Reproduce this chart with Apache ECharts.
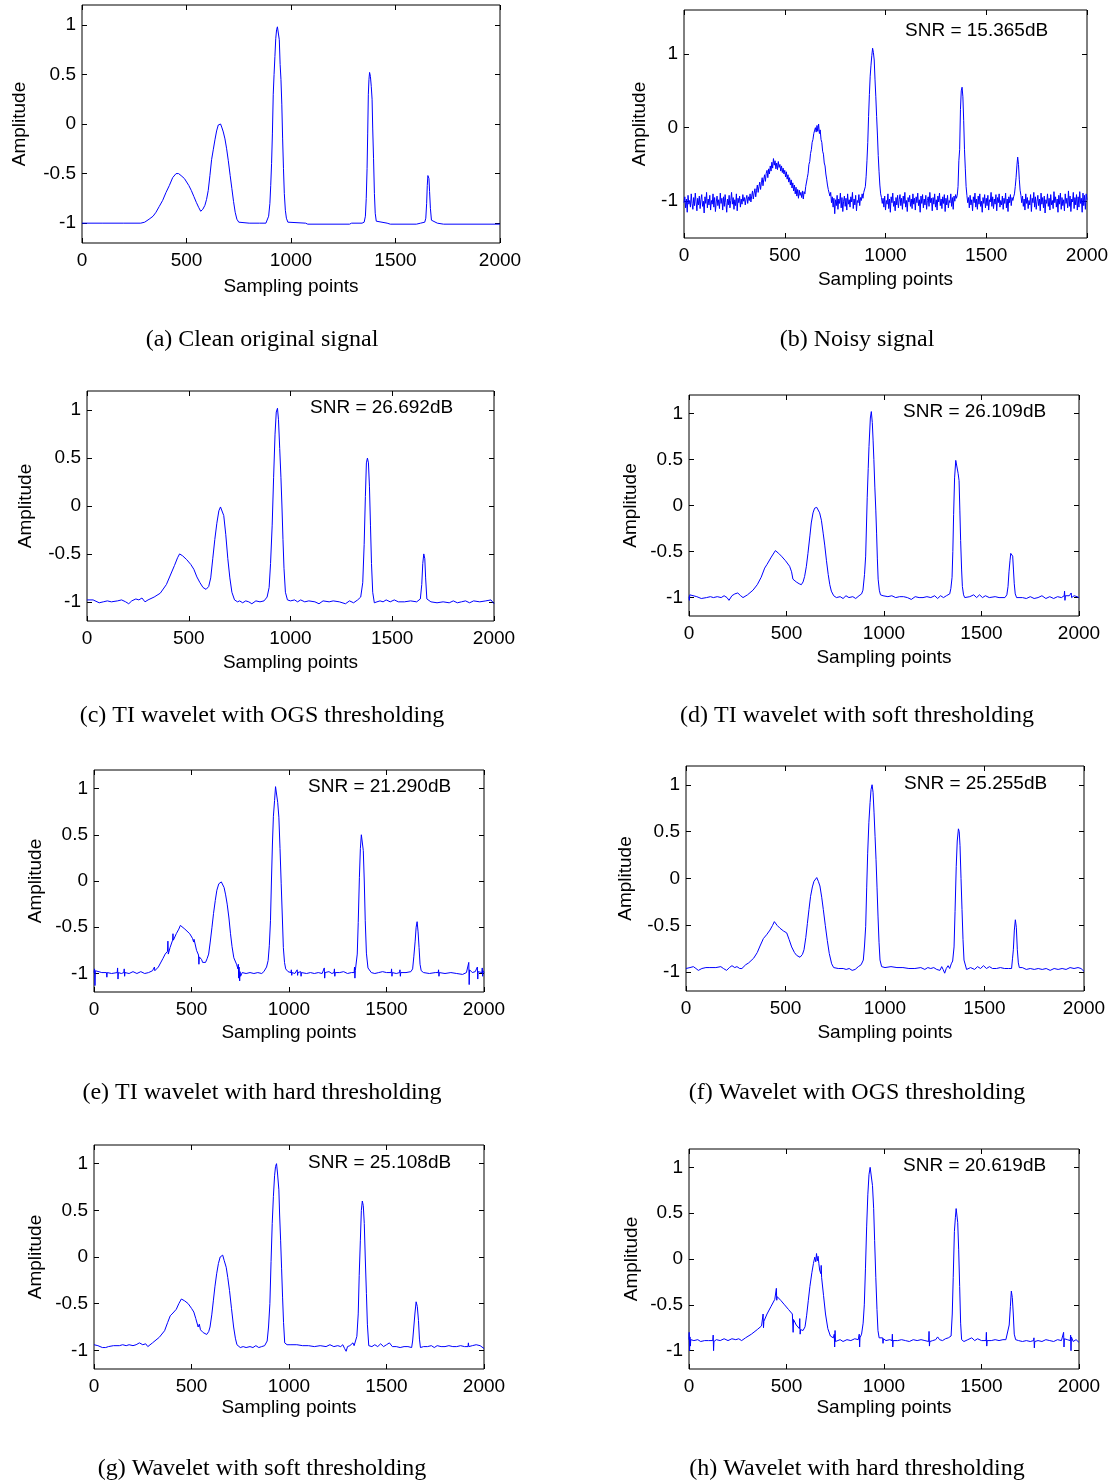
<!DOCTYPE html>
<html>
<head>
<meta charset="utf-8">
<script src="https://cdn.jsdelivr.net/npm/echarts@6/dist/echarts.min.js"></script>
<style>
html, body { margin: 0; padding: 0; background: #fff; }
#chart { width: 1112px; height: 1481px; }
</style>
</head>
<body>
<div id="chart"></div>
<script>
// 刻度
const xTicks = [0, 500, 1000, 1500, 2000]
const yTicks = [-1, -0.5, 0, 0.5, 1]
const yTicksNoisy = [-1, 0, 1]

const captions = [
    '(a) Clean original signal',
    '(b) Noisy signal',
    '(c) TI wavelet with OGS thresholding',
    '(d) TI wavelet with soft thresholding',
    '(e) TI wavelet with hard thresholding',
    '(f) Wavelet with OGS thresholding',
    '(g) Wavelet with soft thresholding',
    '(h) Wavelet with hard thresholding'
]
const snrLabels = ['', 'SNR = 15.365dB', 'SNR = 26.692dB', 'SNR = 26.109dB', 'SNR = 21.290dB', 'SNR = 25.255dB', 'SNR = 25.108dB', 'SNR = 20.619dB']

// (a) 原始信号 [采样点, 幅值]
const sigClean = [[0,-1],[100,-1],[200,-1],[281,-1],[300,-0.99],[321,-0.96],[340,-0.93],[354,-0.89],[370,-0.83],[386,-0.77],[402,-0.69],[418,-0.62],[434,-0.54],[450,-0.5],[462,-0.5],[474,-0.52],[490,-0.55],[499,-0.57],[511,-0.62],[523,-0.67],[535,-0.73],[547,-0.79],[558,-0.84],[568,-0.88],[578,-0.86],[588,-0.82],[596,-0.76],[604,-0.67],[612,-0.52],[620,-0.36],[628,-0.26],[636,-0.16],[644,-0.07],[652,-0.01],[656,0],[663,0],[670,-0.04],[676,-0.08],[684,-0.15],[692,-0.25],[700,-0.37],[709,-0.52],[717,-0.65],[725,-0.78],[733,-0.89],[741,-0.96],[750,-0.99],[757,-1],[800,-1],[850,-1],[880,-1],[886,-0.98],[893,-0.93],[899,-0.8],[903,-0.62],[907,-0.4],[911,-0.1],[915,0.3],[919,0.5],[923,0.68],[927,0.86],[931,0.95],[935,0.98],[938,1],[941,0.97],[944,0.85],[948,0.6],[952,0.45],[956,0.2],[960,-0.15],[964,-0.45],[968,-0.7],[973,-0.87],[978,-0.95],[985,-0.99],[991,-1],[1070,-1],[1080,-1.01],[1280,-1.01],[1290,-1],[1340,-1],[1350,-0.99],[1356,-0.93],[1360,-0.75],[1364,-0.45],[1367,-0.1],[1370,0.3],[1373,0.45],[1376,0.52],[1380,0.48],[1384,0.38],[1388,0.25],[1391,-0.05],[1395,-0.35],[1399,-0.7],[1403,-0.9],[1408,-0.98],[1413,-1],[1460,-1],[1475,-1.01],[1600,-1.01],[1620,-1],[1640,-0.99],[1645,-0.95],[1649,-0.8],[1652,-0.62],[1655,-0.52],[1657,-0.5],[1660,-0.55],[1663,-0.68],[1667,-0.85],[1672,-0.97],[1680,-0.99],[1700,-1],[1730,-1.01],[2000,-1.01]]

// (b) 含噪信号，每 4 个采样点读一次
const noisyStep = 4
const sigNoisy = [
    // 0 - 296
    -1.02,-0.94,-1.09,-0.97,-1.15,-0.92,-1.04,-0.99,-1.08,-0.90,
    -1.03,-1.11,-0.95,-1.06,-0.89,-1.01,-1.13,-0.96,-1.05,-0.93,
    -1.10,-0.98,-0.91,-1.07,-1.00,-1.16,-0.94,-1.03,-0.88,-1.09,
    -0.97,-1.05,-0.92,-1.12,-0.99,-1.04,-0.90,-1.08,-0.95,-1.14,
    -1.01,-0.93,-1.06,-0.98,-1.10,-0.89,-1.03,-0.96,-1.12,-0.94,
    -1.07,-0.91,-1.02,-1.15,-0.97,-1.05,-0.92,-1.09,-0.99,-0.88,
    -1.04,-0.95,-1.11,-0.98,-1.06,-0.90,-1.13,-0.96,-1.02,-0.93,
    -1.08,-0.97,-1.04,-0.91,-1.00,
    // 300 - 456
    -0.95,-1.05,-0.97,-0.92,-1.03,-0.94,-0.99,-0.90,-1.01,-0.93,
    -0.86,-0.97,-0.89,-0.83,-0.94,-0.85,-0.78,-0.88,-0.80,-0.74,
    -0.84,-0.75,-0.68,-0.79,-0.70,-0.64,-0.73,-0.62,-0.58,-0.68,
    -0.56,-0.63,-0.52,-0.59,-0.47,-0.55,-0.42,-0.51,-0.45,-0.56,
    // 460 - 576
    -0.48,-0.57,-0.46,-0.54,-0.50,-0.59,-0.52,-0.61,-0.55,-0.63,
    -0.58,-0.67,-0.60,-0.70,-0.64,-0.74,-0.68,-0.78,-0.71,-0.82,
    -0.75,-0.86,-0.78,-0.90,-0.81,-0.93,-0.84,-0.96,-0.85,-0.92,
    // 580 - 748
    -0.88,-0.95,-0.86,-0.97,-0.87,-0.90,-0.80,-0.78,-0.68,-0.62,
    -0.50,-0.46,-0.35,-0.30,-0.20,-0.16,-0.08,-0.10,0.00,-0.06,
    0.03,-0.05,0.05,-0.08,-0.03,-0.16,-0.20,-0.32,-0.36,-0.48,
    -0.52,-0.63,-0.70,-0.78,-0.84,-0.82,-0.93,-0.88,-1.02,-0.94,
    -1.08,-0.96,-1.17,
    // 752 - 892
    -0.98,-1.06,-0.92,-1.11,-0.97,-1.03,-0.89,-1.09,-0.95,-1.14,
    -1.00,-0.93,-1.07,-0.96,-1.12,-0.90,-1.04,-0.98,-1.08,-0.94,
    -1.01,-0.88,-1.10,-0.97,-1.05,-0.92,-1.13,-0.99,-1.02,-0.91,
    -1.06,-0.95,-0.99,-0.90,-0.96,-0.88,
    // 896 - 984
    -0.87,-0.80,-0.66,-0.45,-0.20,0.15,0.45,0.70,0.85,0.98,
    1.08,1.02,0.92,0.65,0.42,0.15,-0.10,-0.38,-0.60,-0.78,
    -0.90,-0.95,-1.03,
    // 988 - 1352
    -0.96,-1.08,-0.93,-1.12,-0.99,-1.04,-0.90,-1.10,-0.97,-1.15,
    -0.94,-1.02,-0.89,-1.07,-1.00,-1.13,-0.95,-1.05,-0.92,-1.09,
    -0.98,-0.91,-1.06,-0.96,-1.11,-0.93,-1.03,-0.88,-1.08,-0.99,
    -1.14,-0.95,-1.01,-0.92,-1.07,-0.97,-1.10,-0.90,-1.04,-0.96,
    -1.12,-0.94,-1.02,-0.89,-1.06,-0.98,-1.15,-0.93,-1.03,-0.91,
    -1.09,-0.97,-1.05,-0.92,-1.11,-0.99,-0.94,-1.07,-0.88,-1.02,
    -0.96,-1.13,-0.95,-1.04,-0.90,-1.08,-0.98,-1.12,-0.93,-1.01,
    -0.89,-1.06,-0.97,-1.10,-0.94,-1.03,-0.91,-1.14,-0.96,-1.05,
    -0.92,-1.09,-0.99,-1.02,-0.90,-1.07,-0.95,-1.11,-0.93,-1.00,
    -0.91,-0.96,
    // 1356 - 1408
    -0.92,-0.80,-0.45,-0.30,0.25,0.50,0.55,0.42,0.10,-0.30,
    -0.55,-0.80,-0.92,-1.02,
    // 1412 - 1632
    -0.95,-1.09,-0.92,-1.05,-0.98,-1.13,-0.94,-1.02,-0.89,-1.08,
    -0.97,-1.11,-0.93,-1.04,-0.90,-1.07,-1.00,-1.15,-0.95,-1.03,
    -0.91,-1.09,-0.96,-1.06,-0.92,-1.12,-0.98,-1.01,-0.88,-1.07,
    -0.94,-1.10,-0.97,-1.04,-0.91,-1.13,-0.95,-1.02,-0.90,-1.08,
    -0.99,-1.05,-0.93,-1.11,-0.96,-1.03,-0.89,-1.09,-0.97,-1.14,
    -0.94,-1.02,-0.91,-1.06,-0.95,-0.99,
    // 1636 - 1676
    -0.94,-0.90,-0.80,-0.68,-0.52,-0.40,-0.50,-0.70,-0.85,-0.92,
    -1.02,
    // 1680 - 2000
    -0.93,-1.07,-0.97,-1.12,-0.90,-1.03,-0.95,-1.10,-0.99,-1.05,
    -0.91,-1.14,-0.96,-1.02,-0.88,-1.08,-0.94,-1.11,-1.00,-0.92,
    -1.06,-0.97,-1.13,-0.89,-1.04,-0.95,-1.09,-0.93,-1.16,-0.98,
    -1.03,-0.90,-1.07,-0.96,-1.12,-0.91,-1.05,-0.99,-1.10,-0.87,
    -1.02,-0.94,-1.08,-0.97,-1.15,-0.92,-1.04,-0.89,-1.11,-0.95,
    -1.06,-0.98,-1.13,-0.90,-1.03,-0.96,-1.09,-0.86,-1.07,-0.93,
    -1.14,-0.97,-1.01,-0.88,-1.10,-0.95,-1.05,-0.91,-1.12,-0.94,
    -1.08,-0.87,-1.03,-0.96,-1.15,-0.89,-1.06,-0.92,-1.11,-0.90,
    -0.98
]

// (c) TI wavelet + OGS
const sigTiOgs = [[0,-0.98],[30,-0.98],[60,-1.01],[80,-1],[100,-0.99],[120,-1],[150,-0.99],[170,-0.98],[190,-1],[205,-1.02],[220,-0.99],[240,-0.97],[255,-0.98],[270,-0.96],[285,-1],[300,-0.98],[330,-0.95],[360,-0.91],[390,-0.82],[410,-0.72],[430,-0.62],[445,-0.54],[455,-0.5],[470,-0.52],[490,-0.56],[510,-0.61],[525,-0.66],[540,-0.74],[555,-0.8],[570,-0.85],[585,-0.87],[598,-0.84],[608,-0.75],[618,-0.55],[628,-0.35],[638,-0.18],[648,-0.05],[656,-0.01],[664,-0.03],[672,-0.1],[682,-0.3],[692,-0.55],[702,-0.75],[712,-0.9],[725,-0.98],[740,-1],[750,-0.99],[765,-1.01],[780,-0.99],[795,-1],[810,-1.02],[830,-0.99],[850,-1],[870,-0.99],[885,-0.95],[895,-0.85],[902,-0.6],[910,-0.2],[917,0.3],[924,0.75],[930,0.98],[936,1.02],[941,0.9],[947,0.6],[953,0.3],[958,0],[963,-0.35],[968,-0.65],[975,-0.9],[985,-0.98],[1000,-0.99],[1020,-0.98],[1035,-1],[1050,-0.98],[1070,-1],[1090,-0.99],[1120,-1],[1140,-1.02],[1160,-0.99],[1190,-1],[1210,-0.99],[1240,-1],[1270,-1.02],[1290,-0.99],[1310,-1.01],[1330,-0.98],[1345,-0.95],[1355,-0.8],[1362,-0.4],[1368,0.1],[1373,0.45],[1378,0.5],[1383,0.45],[1388,0.2],[1393,-0.2],[1398,-0.6],[1404,-0.9],[1412,-1.01],[1425,-1],[1440,-0.99],[1455,-1],[1470,-0.98],[1490,-1],[1510,-0.98],[1530,-1],[1560,-1],[1590,-0.99],[1620,-1],[1638,-0.97],[1645,-0.82],[1650,-0.6],[1655,-0.5],[1660,-0.55],[1664,-0.75],[1670,-0.97],[1690,-1],[1720,-1.01],[1750,-1],[1780,-1.01],[1800,-0.99],[1820,-1.01],[1840,-1],[1860,-0.99],[1880,-1.01],[1900,-0.99],[1930,-1],[1960,-0.99],[1985,-0.98],[2000,-1.02]]

// (d) TI wavelet + soft
const sigTiSoft = [[0,-0.99],[2,-1.03],[4,-0.97],[6,-0.99],[40,-0.99],[63,-1.01],[90,-1],[110,-0.99],[125,-1],[145,-0.99],[165,-1],[180,-0.98],[195,-1],[205,-1.03],[220,-0.98],[235,-0.96],[250,-0.95],[265,-0.98],[277,-1],[300,-0.97],[328,-0.92],[350,-0.86],[370,-0.78],[388,-0.68],[400,-0.64],[422,-0.56],[443,-0.49],[460,-0.52],[474,-0.55],[495,-0.6],[516,-0.66],[526,-0.72],[533,-0.8],[550,-0.83],[565,-0.85],[576,-0.86],[585,-0.83],[593,-0.77],[602,-0.66],[610,-0.52],[620,-0.33],[627,-0.19],[636,-0.08],[644,-0.03],[655,-0.02],[661,-0.03],[670,-0.08],[679,-0.16],[688,-0.3],[696,-0.43],[705,-0.6],[714,-0.75],[722,-0.86],[730,-0.93],[742,-0.98],[756,-1],[775,-0.99],[790,-1.01],[805,-0.98],[820,-1],[840,-0.99],[855,-1.01],[872,-0.98],[885,-0.96],[892,-0.92],[900,-0.75],[906,-0.55],[914,0.09],[919,0.4],[923,0.64],[930,0.95],[935,1.02],[940,0.9],[944,0.71],[948,0.5],[953,0.2],[958,-0.05],[962,-0.3],[966,-0.58],[970,-0.8],[976,-0.92],[982,-0.97],[995,-0.98],[1020,-0.99],[1040,-0.98],[1060,-1],[1080,-0.99],[1100,-0.99],[1120,-1],[1140,-1.02],[1160,-0.99],[1180,-1],[1200,-1],[1220,-0.99],[1240,-1],[1260,-0.98],[1275,-1.01],[1290,-0.98],[1305,-1],[1320,-0.98],[1330,-1],[1337,-0.96],[1343,-0.9],[1349,-0.78],[1353,-0.5],[1357,-0.1],[1362,0.3],[1368,0.49],[1372,0.51],[1376,0.5],[1380,0.35],[1385,0.27],[1389,-0.05],[1393,-0.38],[1398,-0.7],[1402,-0.88],[1408,-0.97],[1414,-1],[1440,-0.99],[1460,-0.97],[1475,-1],[1490,-0.97],[1505,-1],[1520,-0.98],[1540,-1],[1570,-0.99],[1590,-1],[1620,-1],[1630,-0.97],[1636,-0.88],[1641,-0.72],[1646,-0.6],[1650,-0.52],[1655,-0.5],[1660,-0.55],[1664,-0.7],[1668,-0.85],[1673,-0.96],[1680,-1],[1710,-1],[1730,-1.01],[1750,-0.99],[1770,-1.01],[1790,-1],[1810,-0.98],[1830,-1.01],[1850,-0.99],[1870,-1.01],[1890,-0.99],[1910,-1],[1924,-0.98],[1926,-0.93],[1928,-1.03],[1930,-0.98],[1950,-0.98],[1960,-0.95],[1962,-1],[1975,-0.98],[1990,-0.99],[2000,-1]]

// (e) TI wavelet + hard
const sigTiHard = [[0,-0.99],[3,-0.95],[5,-1.13],[7,-0.97],[9,-0.99],[40,-0.99],[64,-0.99],[66,-1.04],[68,-0.99],[90,-1],[119,-0.99],[121,-0.94],[123,-1.06],[125,-0.99],[140,-1],[153,-0.99],[155,-0.95],[157,-1.03],[159,-0.99],[180,-1],[200,-0.98],[220,-1],[240,-0.98],[260,-1],[280,-0.99],[300,-0.97],[308,-0.99],[310,-0.93],[312,-0.97],[330,-0.93],[353,-0.84],[365,-0.79],[377,-0.76],[379,-0.65],[381,-0.79],[390,-0.72],[403,-0.64],[405,-0.57],[407,-0.64],[422,-0.57],[435,-0.52],[443,-0.48],[445,-0.46],[447,-0.5],[466,-0.52],[491,-0.57],[505,-0.62],[509,-0.61],[511,-0.66],[513,-0.63],[526,-0.75],[536,-0.8],[538,-0.9],[540,-0.82],[552,-0.85],[555,-0.83],[557,-0.88],[572,-0.88],[580,-0.84],[588,-0.79],[596,-0.66],[605,-0.5],[613,-0.35],[622,-0.21],[630,-0.1],[640,-0.03],[653,-0.01],[667,-0.07],[675,-0.15],[683,-0.25],[692,-0.4],[700,-0.57],[708,-0.71],[717,-0.83],[731,-0.9],[738,-0.95],[740,-0.9],[742,-1.05],[744,-0.93],[747,-1.08],[749,-0.98],[752,-1.03],[760,-0.99],[780,-1],[800,-0.99],[820,-1],[840,-0.99],[860,-1],[871,-0.98],[885,-0.93],[893,-0.86],[899,-0.7],[905,-0.43],[910,0],[915,0.4],[920,0.7],[926,0.87],[931,1.02],[936,1],[942,0.85],[948,0.69],[954,0.35],[960,-0.03],[966,-0.4],[971,-0.72],[977,-0.88],[983,-0.95],[995,-0.98],[1010,-0.99],[1012,-0.96],[1014,-1.02],[1016,-0.99],[1030,-1],[1040,-0.99],[1042,-0.96],[1044,-1.02],[1046,-0.99],[1060,-0.98],[1062,-1.03],[1064,-0.99],[1090,-1],[1110,-0.99],[1130,-1],[1150,-0.99],[1170,-1],[1179,-0.99],[1181,-0.94],[1183,-1.05],[1185,-0.99],[1205,-0.98],[1220,-1],[1231,-0.99],[1233,-0.95],[1235,-1.03],[1237,-0.99],[1260,-0.99],[1280,-0.98],[1300,-1],[1320,-0.99],[1334,-0.99],[1336,-0.93],[1338,-1.05],[1340,-0.97],[1345,-0.95],[1350,-0.79],[1355,-0.45],[1361,0.04],[1366,0.35],[1371,0.5],[1376,0.48],[1381,0.33],[1386,0],[1391,-0.43],[1397,-0.78],[1405,-0.94],[1422,-0.99],[1440,-1],[1460,-0.99],[1480,-0.98],[1500,-0.99],[1524,-0.99],[1526,-0.95],[1528,-1.03],[1530,-0.99],[1550,-1],[1567,-0.99],[1569,-0.96],[1571,-1.03],[1573,-0.99],[1600,-0.99],[1625,-0.98],[1634,-0.95],[1640,-0.82],[1647,-0.65],[1652,-0.5],[1657,-0.44],[1662,-0.55],[1667,-0.72],[1672,-0.9],[1678,-0.97],[1690,-0.99],[1720,-1],[1750,-0.99],[1765,-0.99],[1767,-0.96],[1769,-1.03],[1771,-0.99],[1800,-1],[1830,-0.99],[1860,-1],[1890,-1.01],[1910,-0.99],[1920,-0.99],[1922,-0.88],[1924,-1.12],[1926,-0.96],[1940,-0.99],[1955,-0.98],[1964,-0.99],[1966,-0.93],[1968,-1.06],[1970,-0.98],[1980,-0.97],[1989,-0.99],[1991,-0.94],[1993,-1.03],[1995,-0.97],[2000,-0.99]]

// (f) Wavelet + OGS
const sigWOgs = [[0,-0.96],[20,-0.95],[37,-0.94],[50,-0.96],[62,-0.98],[80,-0.96],[100,-0.95],[120,-0.95],[150,-0.95],[175,-0.94],[188,-0.96],[204,-0.98],[218,-0.95],[231,-0.93],[245,-0.95],[256,-0.94],[270,-0.96],[281,-0.96],[300,-0.92],[315,-0.9],[340,-0.85],[358,-0.79],[372,-0.72],[389,-0.64],[405,-0.6],[422,-0.55],[435,-0.5],[444,-0.46],[458,-0.5],[472,-0.53],[490,-0.56],[506,-0.58],[518,-0.65],[531,-0.73],[545,-0.79],[556,-0.82],[573,-0.84],[585,-0.81],[593,-0.76],[602,-0.63],[610,-0.48],[618,-0.33],[626,-0.19],[635,-0.09],[643,-0.03],[657,0.01],[665,-0.03],[673,-0.08],[682,-0.2],[690,-0.33],[700,-0.5],[710,-0.66],[720,-0.8],[732,-0.91],[742,-0.95],[752,-0.97],[765,-0.96],[775,-0.98],[790,-0.96],[805,-0.97],[820,-0.96],[835,-0.98],[850,-0.97],[858,-0.96],[866,-0.94],[880,-0.92],[891,-0.87],[897,-0.72],[903,-0.51],[908,-0.1],[913,0.27],[919,0.6],[925,0.81],[930,0.95],[935,1],[940,0.92],[945,0.7],[950,0.45],[955,0.2],[960,-0.1],[965,-0.41],[970,-0.68],[975,-0.87],[983,-0.94],[1000,-0.95],[1030,-0.94],[1060,-0.95],[1090,-0.95],[1120,-0.96],[1150,-0.96],[1180,-0.95],[1200,-0.97],[1215,-0.95],[1230,-0.96],[1245,-0.95],[1260,-0.97],[1276,-0.98],[1285,-0.94],[1292,-0.97],[1300,-1.01],[1308,-0.96],[1317,-0.93],[1325,-0.96],[1333,-0.91],[1340,-0.88],[1347,-0.73],[1352,-0.35],[1358,0.13],[1363,0.4],[1369,0.53],[1373,0.5],[1377,0.35],[1382,0],[1387,-0.33],[1392,-0.65],[1397,-0.87],[1410,-0.97],[1430,-0.95],[1450,-0.97],[1465,-0.94],[1480,-0.96],[1495,-0.93],[1510,-0.96],[1525,-0.94],[1540,-0.96],[1560,-0.96],[1580,-0.95],[1600,-0.96],[1620,-0.96],[1636,-0.96],[1641,-0.85],[1645,-0.76],[1650,-0.55],[1655,-0.44],[1660,-0.52],[1665,-0.76],[1670,-0.9],[1675,-0.95],[1690,-0.95],[1710,-0.97],[1730,-0.96],[1750,-0.97],[1770,-0.96],[1790,-0.97],[1810,-0.96],[1830,-0.98],[1850,-0.96],[1870,-0.97],[1890,-0.96],[1910,-0.97],[1930,-0.95],[1950,-0.96],[1970,-0.95],[1985,-0.96],[2000,-0.99]]

// (g) Wavelet + soft
const sigWSoft = [[0,-0.94],[20,-0.95],[43,-0.97],[60,-0.97],[74,-0.96],[100,-0.95],[130,-0.95],[147,-0.94],[165,-0.95],[180,-0.94],[200,-0.95],[216,-0.94],[233,-0.92],[250,-0.94],[265,-0.93],[276,-0.96],[300,-0.92],[310,-0.9],[335,-0.86],[362,-0.79],[378,-0.7],[391,-0.63],[405,-0.6],[422,-0.56],[435,-0.5],[448,-0.45],[465,-0.47],[483,-0.5],[500,-0.55],[512,-0.59],[522,-0.66],[534,-0.75],[540,-0.72],[546,-0.78],[560,-0.81],[578,-0.83],[588,-0.8],[595,-0.75],[604,-0.62],[612,-0.47],[620,-0.32],[629,-0.18],[638,-0.07],[647,0],[655,0.02],[660,0.02],[668,-0.04],[678,-0.11],[686,-0.22],[695,-0.36],[705,-0.55],[716,-0.75],[725,-0.87],[733,-0.94],[750,-0.97],[765,-0.96],[780,-0.97],[800,-0.96],[815,-0.97],[830,-0.95],[845,-0.97],[860,-0.96],[875,-0.95],[888,-0.9],[895,-0.75],[902,-0.5],[908,-0.05],[914,0.36],[920,0.65],[926,0.87],[931,0.97],[936,1],[941,0.9],[948,0.72],[952,0.45],[957,0.18],[962,-0.12],[967,-0.43],[972,-0.7],[978,-0.92],[990,-0.94],[1010,-0.94],[1040,-0.94],[1070,-0.95],[1100,-0.95],[1130,-0.96],[1160,-0.95],[1190,-0.96],[1210,-0.94],[1230,-0.96],[1250,-0.95],[1265,-0.96],[1276,-0.94],[1285,-0.98],[1293,-1.01],[1300,-0.96],[1312,-0.95],[1320,-0.97],[1328,-0.92],[1334,-0.95],[1341,-0.95],[1348,-0.85],[1355,-0.61],[1360,-0.2],[1366,0.18],[1371,0.5],[1376,0.6],[1381,0.55],[1386,0.36],[1391,0],[1397,-0.39],[1402,-0.72],[1409,-0.95],[1425,-0.96],[1440,-0.94],[1455,-0.96],[1470,-0.93],[1485,-0.96],[1500,-0.94],[1515,-0.92],[1530,-0.96],[1550,-0.96],[1570,-0.97],[1590,-0.96],[1610,-0.96],[1620,-0.94],[1629,-0.97],[1634,-0.9],[1640,-0.75],[1646,-0.6],[1652,-0.48],[1658,-0.53],[1664,-0.68],[1669,-0.88],[1674,-0.97],[1690,-0.96],[1710,-0.96],[1730,-0.95],[1745,-0.97],[1760,-0.95],[1780,-0.96],[1800,-0.96],[1820,-0.95],[1840,-0.96],[1860,-0.96],[1880,-0.95],[1900,-0.96],[1918,-0.96],[1920,-0.92],[1922,-0.96],[1940,-0.95],[1960,-0.94],[1980,-0.95],[1990,-0.94],[2000,-0.98]]

// (h) Wavelet + hard
const sigWHard = [[0,-0.88],[1,-0.8],[3,-1],[5,-0.85],[7,-0.95],[9,-0.88],[25,-0.89],[45,-0.88],[60,-0.9],[80,-0.89],[100,-0.89],[122,-0.89],[124,-0.83],[126,-1],[128,-0.9],[140,-0.88],[160,-0.89],[180,-0.87],[200,-0.89],[220,-0.87],[240,-0.88],[255,-0.87],[270,-0.89],[290,-0.86],[320,-0.82],[350,-0.77],[372,-0.73],[378,-0.72],[380,-0.6],[382,-0.75],[384,-0.68],[400,-0.6],[420,-0.52],[440,-0.44],[446,-0.42],[448,-0.32],[450,-0.45],[452,-0.41],[470,-0.45],[490,-0.5],[510,-0.55],[530,-0.6],[532,-0.6],[534,-0.8],[536,-0.66],[550,-0.72],[566,-0.76],[568,-0.65],[570,-0.82],[572,-0.77],[585,-0.78],[595,-0.74],[603,-0.62],[612,-0.45],[620,-0.3],[630,-0.15],[638,-0.05],[645,0.02],[650,-0.03],[654,0.06],[658,-0.02],[662,0.03],[666,-0.05],[670,-0.12],[676,-0.16],[678,-0.07],[680,-0.2],[690,-0.4],[700,-0.6],[712,-0.76],[725,-0.84],[740,-0.86],[745,-0.82],[747,-0.96],[749,-0.78],[751,-0.9],[760,-0.89],[775,-0.88],[790,-0.9],[810,-0.88],[830,-0.89],[850,-0.87],[868,-0.88],[873,-0.82],[875,-0.96],[877,-0.86],[885,-0.82],[893,-0.7],[899,-0.5],[905,-0.1],[911,0.35],[917,0.7],[923,0.92],[929,1],[935,0.98],[941,0.8],[947,0.55],[952,0.2],[958,-0.2],[964,-0.55],[969,-0.78],[975,-0.86],[985,-0.88],[993,-0.86],[995,-0.92],[997,-0.87],[1010,-0.89],[1030,-0.88],[1041,-0.89],[1043,-0.82],[1045,-0.96],[1047,-0.89],[1070,-0.89],[1090,-0.88],[1110,-0.89],[1130,-0.9],[1150,-0.88],[1170,-0.89],[1190,-0.88],[1210,-0.89],[1229,-0.9],[1231,-0.79],[1233,-0.95],[1235,-0.9],[1250,-0.89],[1265,-0.88],[1275,-0.85],[1285,-0.88],[1300,-0.89],[1315,-0.87],[1330,-0.86],[1338,-0.88],[1344,-0.84],[1350,-0.6],[1355,-0.2],[1361,0.3],[1366,0.45],[1370,0.55],[1374,0.55],[1378,0.4],[1383,0.1],[1388,-0.3],[1393,-0.7],[1398,-0.88],[1410,-0.9],[1430,-0.88],[1450,-0.86],[1465,-0.89],[1480,-0.87],[1500,-0.89],[1523,-0.89],[1525,-0.8],[1527,-0.95],[1529,-0.89],[1550,-0.89],[1570,-0.88],[1590,-0.89],[1610,-0.88],[1625,-0.88],[1635,-0.86],[1642,-0.72],[1648,-0.52],[1653,-0.35],[1658,-0.42],[1663,-0.6],[1668,-0.82],[1675,-0.88],[1690,-0.89],[1710,-0.9],[1730,-0.89],[1750,-0.9],[1767,-0.89],[1769,-0.86],[1771,-0.97],[1773,-0.9],[1790,-0.89],[1810,-0.9],[1830,-0.88],[1850,-0.89],[1870,-0.9],[1890,-0.88],[1910,-0.89],[1919,-0.89],[1921,-0.8],[1923,-0.96],[1925,-0.87],[1940,-0.88],[1955,-0.89],[1957,-0.83],[1959,-1],[1961,-0.85],[1970,-0.9],[1985,-0.88],[2000,-0.91]]

// 含噪信号转成 [x, y]
const noisyPairs = sigNoisy.map((v, i) => [i * noisyStep, v])

// 各子图位置：box = [left, top, width, height]
const panels = [
    {data: sigClean,  box: [82, 5, 418, 238],    yMin: -1.2, yMax: 1.2, ticks: yTicks,      gapX: 34, gapY: 53, cap: [262, 340],  snr: null},
    {data: noisyPairs,box: [684, 10, 403, 228],  yMin: -1.5, yMax: 1.6, ticks: yTicksNoisy, gapX: 32, gapY: 35, cap: [857, 340],  snr: [905, 31]},
    {data: sigTiOgs,  box: [87, 391, 407, 230],  yMin: -1.2, yMax: 1.2, ticks: yTicks,      gapX: 32, gapY: 52, cap: [262, 716],  snr: [310, 408]},
    {data: sigTiSoft, box: [689, 395, 390, 221], yMin: -1.2, yMax: 1.2, ticks: yTicks,      gapX: 32, gapY: 49, cap: [857, 716],  snr: [903, 412]},
    {data: sigTiHard, box: [94, 770, 390, 222],  yMin: -1.2, yMax: 1.2, ticks: yTicks,      gapX: 31, gapY: 49, cap: [262, 1093], snr: [308, 787]},
    {data: sigWOgs,   box: [686, 766, 398, 225], yMin: -1.2, yMax: 1.2, ticks: yTicks,      gapX: 32, gapY: 51, cap: [857, 1093], snr: [904, 784]},
    {data: sigWSoft,  box: [94, 1145, 390, 224], yMin: -1.2, yMax: 1.2, ticks: yTicks,      gapX: 29, gapY: 49, cap: [262, 1469], snr: [308, 1163]},
    {data: sigWHard,  box: [689, 1149, 390, 220],yMin: -1.2, yMax: 1.2, ticks: yTicks,      gapX: 29, gapY: 48, cap: [857, 1469], snr: [903, 1166]}
]

const sansFont = 'Liberation Sans, Arial, sans-serif'
const serifFont = 'Liberation Serif, Times New Roman, serif'
const fontSize = 19
const tickStyle = {inside: true, length: 5, lineStyle: {color: '#000', width: 1}}
const noLine = {show: false, onZero: false}

let grids = [], xAxes = [], yAxes = [], series = [], graphics = []

panels.forEach((p, i) => {
    grids.push({
        left: p.box[0], top: p.box[1], width: p.box[2], height: p.box[3],
        show: true, borderColor: '#000', borderWidth: 1, backgroundColor: '#fff',
        containLabel: false, outerBoundsMode: 'none'
    })
    // 下方 x 轴
    xAxes.push({
        gridIndex: i, type: 'value', position: 'bottom',
        min: xTicks[0], max: xTicks[xTicks.length - 1], interval: xTicks[1] - xTicks[0],
        axisLine: noLine, axisTick: tickStyle, splitLine: {show: false},
        axisLabel: {color: '#000', fontFamily: sansFont, fontSize: fontSize, margin: 8,
            showMinLabel: true, showMaxLabel: true, formatter: v => String(v)},
        name: 'Sampling points', nameLocation: 'middle', nameGap: p.gapX,
        nameTextStyle: {color: '#000', fontFamily: sansFont, fontSize: fontSize}
    })
    // 上方镜像刻度
    xAxes.push({
        gridIndex: i, type: 'value', position: 'top',
        min: xTicks[0], max: xTicks[xTicks.length - 1], interval: xTicks[1] - xTicks[0],
        axisLine: noLine, axisTick: tickStyle, splitLine: {show: false},
        axisLabel: {show: false}
    })
    yAxes.push({
        gridIndex: i, type: 'value', position: 'left', min: p.yMin, max: p.yMax,
        axisLine: noLine, splitLine: {show: false},
        axisTick: Object.assign({customValues: p.ticks}, tickStyle),
        axisLabel: {customValues: p.ticks, color: '#000', fontFamily: sansFont, fontSize: fontSize, margin: 6,
            formatter: v => String(v)},
        name: 'Amplitude', nameLocation: 'middle', nameGap: p.gapY, nameRotate: 90,
        nameTextStyle: {color: '#000', fontFamily: sansFont, fontSize: fontSize}
    })
    // 右侧镜像刻度
    yAxes.push({
        gridIndex: i, type: 'value', position: 'right', min: p.yMin, max: p.yMax,
        axisLine: noLine, splitLine: {show: false},
        axisTick: Object.assign({customValues: p.ticks}, tickStyle),
        axisLabel: {show: false}
    })
    series.push({
        type: 'line', xAxisIndex: 2 * i, yAxisIndex: 2 * i,
        data: p.data, showSymbol: false, symbol: 'none', silent: true,
        lineStyle: {color: '#0000ff', width: 1}
    })
    graphics.push({
        type: 'text', x: p.cap[0], y: p.cap[1],
        style: {text: captions[i], font: '24px ' + serifFont, fill: '#000',
            align: 'center', verticalAlign: 'middle', textAlign: 'center', textVerticalAlign: 'middle'}
    })
    if (p.snr) {
        graphics.push({
            type: 'text', x: p.snr[0], y: p.snr[1],
            style: {text: snrLabels[i], font: fontSize + 'px ' + sansFont, fill: '#000',
                align: 'left', verticalAlign: 'middle', textAlign: 'left', textVerticalAlign: 'middle'}
        })
    }
})

const myChart = echarts.init(document.getElementById('chart'))
myChart.setOption({
    animation: false,
    backgroundColor: '#fff',
    grid: grids,
    xAxis: xAxes,
    yAxis: yAxes,
    series: series,
    graphic: graphics
})
</script>
</body>
</html>
